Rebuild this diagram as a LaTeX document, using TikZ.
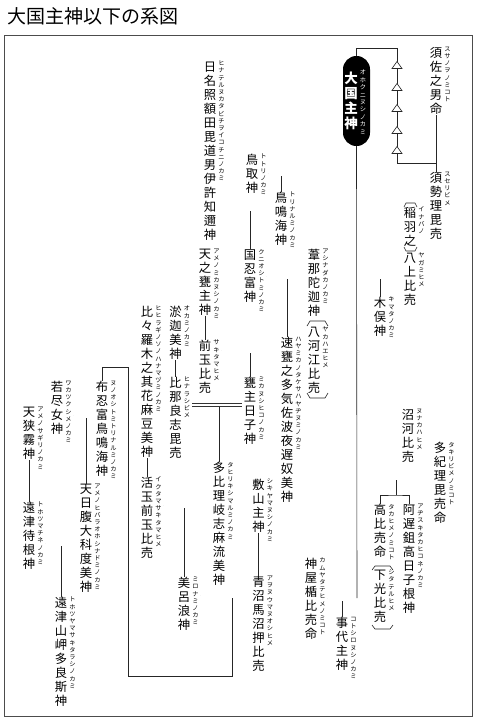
\documentclass[tikz,border=0pt]{standalone}
\usepackage{fontspec}
\setmainfont{Noto Sans CJK JP}
\makeatletter
\def\vt@loop#1{\ifx#1\relax\else\hbox to 1em{\hss#1\hss}\expandafter\vt@loop\fi}
\newcommand\vt[1]{\vbox{\lineskiplimit=-\maxdimen\expandafter\vt@loop#1\relax}}
\makeatother

\begin{document}
\begin{tikzpicture}[x=1pt, y=-1pt,
    nm/.style={anchor=north, inner sep=0pt, outer xsep=2pt, outer ysep=0.5pt, font=\fontsize{12.3}{14}\selectfont},
    fr/.style={anchor=north, inner sep=0pt, outer xsep=2pt, outer ysep=0pt, font=\fontsize{6.2}{7.2}\selectfont},
    ln/.style={line width=0.6pt, black!85},
    dbl/.style={draw=black!80, double=white, double distance=2.1pt, line width=0.55pt}]

    \useasboundingbox (0,0) rectangle (477,721);

    % =========================================================================
    % TITLE AND FRAME
    % =========================================================================
    \node[anchor=north west, inner sep=0pt, font=\fontsize{19}{19}\selectfont] (title) at (7,7.5) {大国主神以下の系図};
    \draw[black!70, line width=0.9pt] (4,35) rectangle (472,716);

    % =========================================================================
    % OKUNINUSHI (black capsule)
    % =========================================================================
    \node[fill=black, rounded corners=13.4pt, minimum width=27pt, minimum height=90pt, inner sep=0pt] (okuninushi) at (356.5,101) {};
    \node[nm, text=white, font=\fontsize{13.5}{15}\selectfont\bfseries] (okuninushi-t) at (351,71) {\vt{大国主神}};
    \node[fr, text=white, font=\fontsize{6.2}{7.4}\selectfont] (okuninushi-f) at (363,70) {\vt{オホクニヌシノカミ}};

    % =========================================================================
    % DEITIES: name / x / top / kanji / kana
    % =========================================================================
    \foreach \n/\x/\y/\kanji/\kana in {
        susanoo/436/47/須佐之男命/スサノヲノミコト,
        suseri/436/172/須勢理毘売/スセリビメ,
        inaba/410/207/稲羽之/イナバノ,
        yagami/410/253/八上比売/ヤガミヒメ,
        kimata/380/297/木俣神/キマタノカミ,
        tottori/252/154/鳥取神/トトリノカミ,
        torinarumi/281/192/鳥鳴海神/トリナルミノカミ,
        hinateru/210/61/日名照額田毘道男伊許知邇神/ヒナテルヌカタビチヲイコチニノカミ,
        kuniositomi/250/249/国忍富神/クニオシトミノカミ,
        ashinadaka/314/249/葦那陀迦神/アシナダカノカミ,
        yakahae/314/327/八河江比売/ヤカハエヒメ,
        hayamika/287/337/速甕之多気佐波夜遅奴美神/ハヤミカノタケサハヤヂヌミノカミ,
        amenomika/205/249/天之甕主神/アメノミカヌシノカミ,
        sakitama/205/340/前玉比売/サキタマヒメ,
        mikanushi/250/377/甕主日子神/ミカヌシヒコノカミ,
        okami/175.5/306/淤迦美神/オカミノカミ,
        hinarashi/175.5/377/比那良志毘売/ヒナラシビメ,
        tahiriki/219/462/多比理岐志麻流美神/タヒリキシマルミノカミ,
        hihiragi/147/306/比々羅木之其花麻豆美神/ヒヒラギノソノハナマヅミノカミ,
        ikutama/147/477/活玉前玉比売/イクタマサキタマヒメ,
        mironami/184/577/美呂浪神/ミロナミノカミ,
        shikiyama/258.5/479/敷山主神/シキヤマヌシノカミ,
        aonuma/258.5/576/青沼馬沼押比売/アヲヌウマヌオシヒメ,
        nunooshi/102/381/布忍富鳥鳴海神/ヌノオシトミトリナルミノカミ,
        wakatsukushi/57/381/若尽女神/ワカツクシメノカミ,
        amenohibara/86/484/天日腹大科度美神/アメノヒバラオホシナドミノカミ,
        amenosagiri/29/407/天狭霧神/アメノサギリノカミ,
        tohotsumachi/29/502/遠津待根神/トホツマチネノカミ,
        tohotsuyama/61/597/遠津山岬多良斯神/トホツヤマサキタラシノカミ,
        nunakawa/408/409/沼河比売/ヌナカハヒメ,
        takiri/440/442/多紀理毘売命/タキリビメノミコト,
        takahime/380/504/高比売命/タカヒメノミコト,
        shitateru/380/570/下光比売/シタテルヒメ,
        ajisuki/409/504/阿遅鉏高日子根神/アヂスキタカヒコネノカミ,
        kamuyatate/311/558/神屋楯比売命/カムヤタテヒメノミコト,
        kotoshiro/342/617/事代主神/コトシロヌシノカミ} {
        \node[nm] (\n) at (\x,\y) {\vt{\kanji}};
        \node[fr] (\n-f) at ([xshift=11.5pt]\n.north) {\vt{\kana}};
    }

    % Brackets round the epithets
    \draw[ln] (404,207) -- (406,203) -- (415,203) -- (417,207);
    \draw[ln] (404,247) -- (406,251) -- (415,251) -- (417,247);
    \draw[ln] (307,326) -- (310,321) -- (325,321) -- (328,326);
    \draw[ln] (307,393) -- (310,398) -- (325,398) -- (328,393);
    \draw[ln] (372,570) -- (375,566) -- (390,566) -- (393,570);
    \draw[ln] (372,625) -- (375,629) -- (390,629) -- (393,625);

    % =========================================================================
    % JUNCTIONS
    % =========================================================================
    \coordinate (m-suseri) at (357,195.5);
    \coordinate (m-tottori) at (357,174.5);
    \coordinate (m-yagami) at (357,277.5);
    \coordinate (m-nunakawa) at (357,423.5);
    \coordinate (m-takiri) at (357,478.5);
    \coordinate (m-kamuya) at (357,599.5);
    \coordinate (m-hinateru) at (250,209.5);
    \coordinate (m-kuni) at (286,277.5);
    \coordinate (m-sakitama) at (250,351.5);
    \coordinate (m-hinarashi) at (219,405);
    \coordinate (m-ikutama) at (185,506.5);
    \coordinate (m-mironami) at (232,596.5);
    \coordinate (m-waka) at (86,416.5);
    \coordinate (m-toho) at (62,544.5);
    \coordinate (branch) at (396,495);
    \coordinate (loop-a) at (232,676);
    \coordinate (loop-b) at (128,367);
    \coordinate (t1) at (397,48);
    \coordinate (t2) at (397,163);
    \coordinate (trunk-end) at (357,598.2);

    % Children lines
    \draw[ln] (torinarumi.north |- m-tottori) -- (torinarumi.north);
    \draw[ln] (kuniositomi.north |- m-hinateru) -- (kuniositomi.north);
    \draw[ln] (hayamika.north |- m-kuni) -- (hayamika.north);
    \draw[ln] (mikanushi.north |- m-sakitama) -- (mikanushi.north);
    \draw[ln] (tahiriki.north |- m-hinarashi) -- (tahiriki.north);
    \draw[ln] (mironami.north |- m-ikutama) -- (mironami.north);
    \draw[ln] (amenohibara.north |- m-waka) -- (amenohibara.north);
    \draw[ln] (tohotsuyama.north |- m-toho) -- (tohotsuyama.north);
    \draw[ln] (kimata.north |- m-yagami) -- (kimata.north);
    \draw[ln] (kotoshiro.north |- m-kamuya) -- (kotoshiro.north);
    \draw[ln] (branch |- m-takiri) -- (branch);
    \draw[ln] (takahime.north) |- (branch) -| (ajisuki.north);
    \draw[ln] (m-mironami) -- (loop-a) -| (loop-b) -| (nunooshi.north);

    % Parent to daughter
    \draw[ln] (amenomika.south) -- (sakitama.north);
    \draw[ln] (okami.south) -- (hinarashi.north);
    \draw[ln] (hihiragi.south) -- (ikutama.north);
    \draw[ln] (amenosagiri.south) -- (tohotsumachi.north);
    \draw[ln] (shikiyama.south) -- (aonuma.north);

    % Marriages (double lines)
    \draw[dbl] (m-suseri) -- (suseri.west |- m-suseri);
    \draw[dbl] (tottori-f.east |- m-tottori) -- (m-tottori);
    \draw[dbl] (m-yagami) -- (yagami.west |- m-yagami);
    \draw[dbl] (m-nunakawa) -- (nunakawa.west |- m-nunakawa);
    \draw[dbl] (m-takiri) -- (takiri.west |- m-takiri);
    \draw[dbl] (kamuyatate-f.east |- m-kamuya) -- (m-kamuya);
    \draw[dbl] (hinateru.east |- m-hinateru) -- (torinarumi.west |- m-hinateru);
    \draw[dbl] (kuniositomi-f.east |- m-kuni) -- (ashinadaka.west |- m-kuni);
    \draw[dbl] (sakitama-f.east |- m-sakitama) -- (hayamika.west |- m-sakitama);
    \draw[dbl] (hinarashi-f.east |- m-hinarashi) -- (mikanushi.west |- m-hinarashi);
    \draw[dbl] (ikutama-f.east |- m-ikutama) -- (tahiriki.west |- m-ikutama);
    \draw[dbl] (mironami-f.east |- m-mironami) -- (aonuma.west |- m-mironami);
    \draw[dbl] (wakatsukushi-f.east |- m-waka) -- (nunooshi.west |- m-waka);
    \draw[dbl] (tohotsumachi-f.east |- m-toho) -- (amenohibara.west |- m-toho);

    % Okuninushi trunk and line up to Susanoo
    \draw[ln] (okuninushi.south) -- (trunk-end);
    \draw[ln] (okuninushi.north) |- (t1) -- (t2) -| (suseri.north);
    \draw[ln] (susanoo.south) -- (suseri.north);
    \foreach \ty in {65,87,108,130,150} {
        \draw[ln, fill=white] (397,\ty) ++(-5,3.5) -- ++(5,-7) -- ++(5,7) -- cycle;
    }

\end{tikzpicture}
\end{document}
